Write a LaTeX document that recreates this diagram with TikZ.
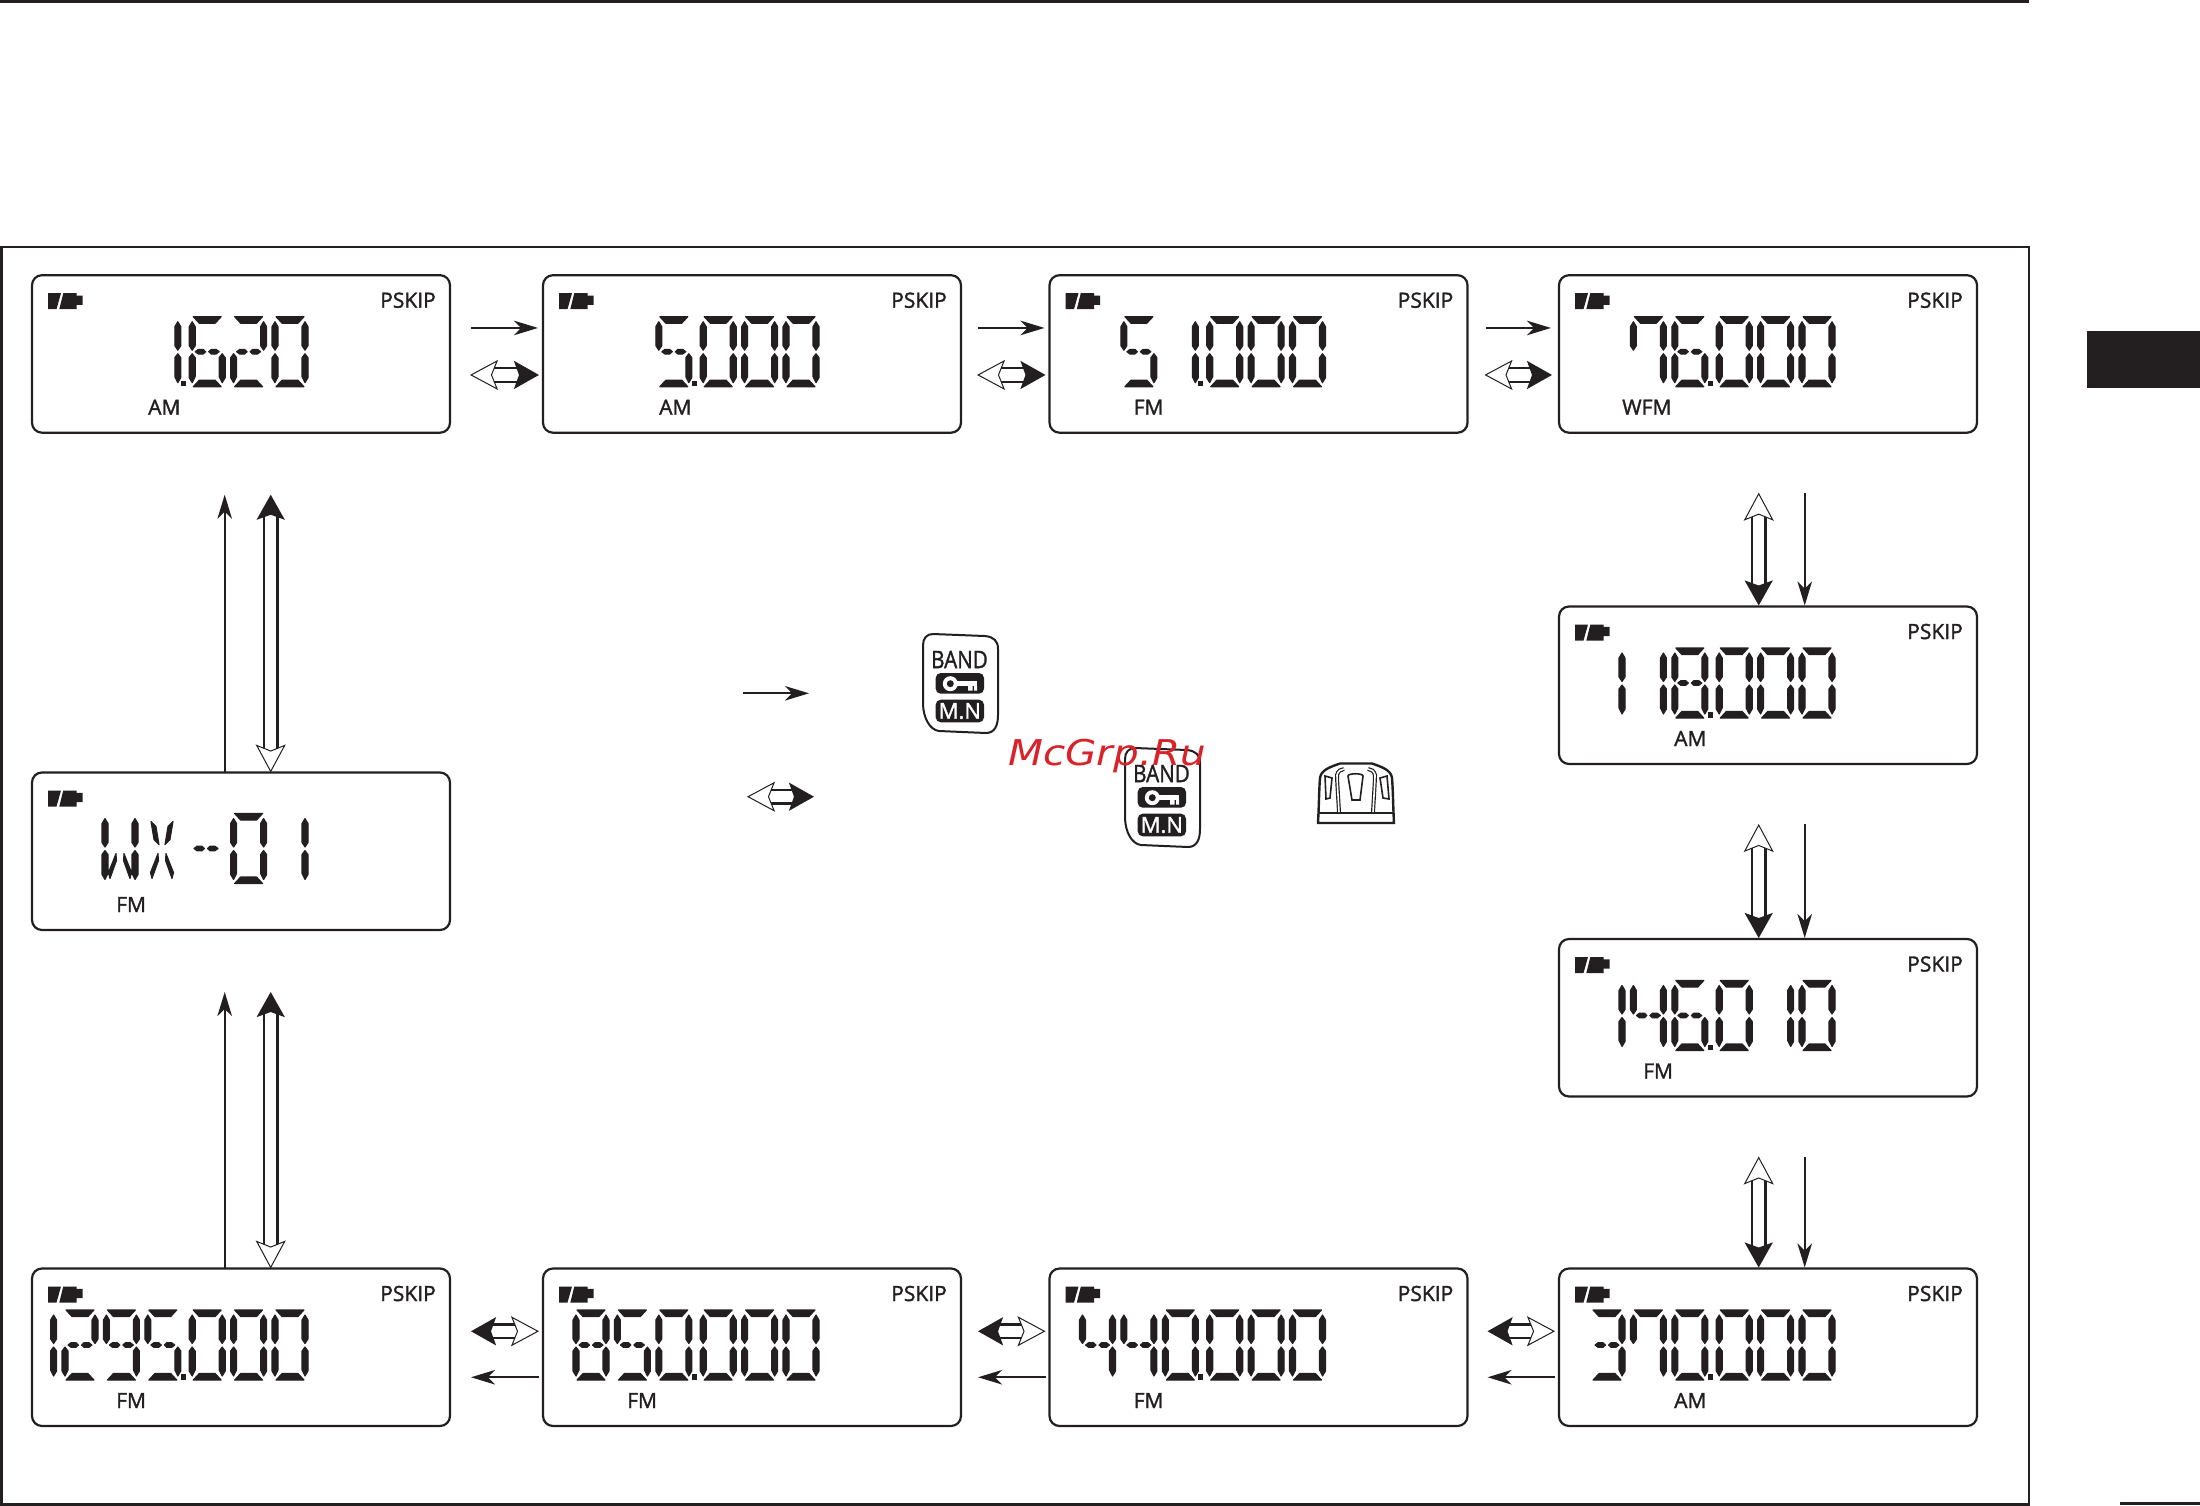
\documentclass[tikz,border=0pt]{standalone}
\usepackage{fontspec}
\setmainfont{Open Sans}[FakeBold=1.6]
\newfontfamily\markfont{DejaVu Sans}
\usepackage{xcolor}
\usetikzlibrary{calc}
\usetikzlibrary{arrows.meta}

\definecolor{lcdink}{HTML}{231F20}
\definecolor{markred}{HTML}{D8232A}

\tikzset{
  lcdbox/.style={draw,line width=2.2pt,rounded corners=10pt,minimum width=418pt,minimum height=157.5pt,inner sep=0pt,outer sep=0pt},
  lcdtext/.style={inner sep=0pt,font=\fontsize{21}{21}\selectfont},
  thinarrow/.style={line width=2.2pt,-{Stealth[length=24pt,width=14.5pt,inset=7pt]}},
  twoway/.style={line width=2.2pt,double,double distance=11.5pt,{Stealth[open,fill=white,line width=1pt,length=28pt,width=30pt,inset=6pt]}-{Stealth[length=25pt,width=28pt,inset=5pt]}},
  keytext/.style={inner sep=0pt,font=\fontsize{24}{24}\selectfont}
}

% Segments d'un chiffre (largeur 36, hauteur 70)
\newcommand{\sega}{(4,0) -- (32,0) -- (26,6.5) -- (10,6.5) -- cycle }
\newcommand{\segd}{(10,63.5) -- (26,63.5) -- (32,70) -- (4,70) -- cycle }
\newcommand{\segf}{(3,5) -- (6,10) -- (6,29) -- (3,33.5) -- (0,29) -- (0,10) -- cycle }
\newcommand{\sege}{(3,37) -- (6,41) -- (6,60) -- (3,66) -- (0,61) -- (0,41) -- cycle }
\newcommand{\segb}{(33,5) -- (36,10) -- (36,29) -- (33,33.5) -- (30,29) -- (30,10) -- cycle }
\newcommand{\segc}{(33,37) -- (36,41) -- (36,61) -- (33,66) -- (30,60) -- (30,41) -- cycle }
\newcommand{\segg}{(6,35) -- (9,32.7) -- (14,32.7) -- (16.5,35) -- (14,37.3) -- (9,37.3) -- cycle (19.5,35) -- (22,32.7) -- (27,32.7) -- (30,35) -- (27,37.3) -- (22,37.3) -- cycle }
\newcommand{\segul}{(7,8) -- (12,13) -- (15,31) -- (10,26) -- cycle }
\newcommand{\segur}{(29,8) -- (24,13) -- (21,31) -- (26,26) -- cycle }
\newcommand{\segdl}{(14,40) -- (14.5,47) -- (8,65) -- (6.5,59) -- cycle }
\newcommand{\segdr}{(22,40) -- (21.5,47) -- (28,65) -- (29.5,59) -- cycle }

\newcommand{\digdef}[2]{\expandafter\newcommand\csname lcd#1\endcsname{\filldraw[line width=1.1pt,line join=round] #2;}}
\digdef{0}{\sega\segb\segc\segd\sege\segf}
\digdef{1}{\segb\segc}
\digdef{2}{\sega\segb\segg\sege\segd}
\digdef{3}{\sega\segb\segg\segc\segd}
\digdef{4}{\segf\segg\segb\segc}
\digdef{5}{\sega\segf\segg\segc\segd}
\digdef{6}{\sega\segf\segg\segc\segd\sege}
\digdef{7}{\sega\segf\segb\segc}
\digdef{8}{\sega\segb\segc\segd\sege\segf\segg}
\digdef{9}{\sega\segb\segc\segd\segf\segg}
\digdef{W}{\segf\sege\segb\segc\segdl\segdr}
\digdef{X}{\segul\segur\segdl\segdr}
\digdef{M}{\segg}

% Un afficheur : nom, mode, x du mode
\newcommand{\lcdpanel}[3]{%
  \node[lcdbox] (#1) at (209,78.75) {};
  \fill (16,18) -- (29,18) -- (24.5,34) -- (16,34) -- cycle;
  \fill (31.3,18) -- (44.7,18) -- (44.7,20.3) -- (50.7,20.3) -- (50.7,29.7) -- (44.7,29.7) -- (44.7,34) -- (27.3,34) -- cycle;
  \node[lcdtext,anchor=west] (#1mode) at (#3,132) {#2};
}
% Une frequence : PSKIP, point et chiffres (position/chiffre)
\newcommand{\lcdfreq}[2]{%
  \node[lcdtext,anchor=east] (#1skip) at (404,25) {PSKIP};
  \fill (148.5,105.5) rectangle (153.5,111);
  \foreach \p/\d in {#2} {
    \pgfmathsetmacro{\dx}{240-41.4*\p-3*(\p>2)}
    \begin{scope}[shift={(\dx,41.5)}]
      \csname lcd\d\endcsname
    \end{scope}
  }
}
% La touche BAND
\newcommand{\bandkey}[3]{%
  \begin{scope}[shift={(#2,#3)}]
    \draw[line width=2pt] (10,1) -- (62,3) .. controls (71,4) and (75,8) .. (75,16) -- (75,82) .. controls (75,92) and (72,100) .. (63,100) -- (16,98) .. controls (7,97) and (0,85) .. (0,70) -- (0,12) .. controls (0,5) and (4,1) .. (10,1) -- cycle;
    \node[keytext,xscale=0.86] (#1band) at (36.5,26.5) {BAND};
    \fill[rounded corners=5pt] (12.7,40) rectangle (61,60.7);
    \fill[rounded corners=5pt] (12.7,66.7) rectangle (61,89.3);
    \fill[white] (27.3,50.7) circle (7.5);
    \fill (27.3,50.7) circle (3.5);
    \fill[white] (33,48) rectangle (54,53);
    \fill[white] (45,53) rectangle (49.5,57.5) (51,53) rectangle (54,57.5);
    \node[keytext,text=white,font=\fontsize{22}{22}\selectfont] (#1mn) at (36.8,78) {M.N};
  \end{scope}
}

\begin{document}
\begin{tikzpicture}[x=1pt,y=-1pt,color=lcdink]
    \useasboundingbox (0,0) rectangle (2200,1505);

    % Cadre, filet du haut et onglet
    \fill (0,0) rectangle (2029,3);
    \draw[line width=2.6pt] (1.5,247) rectangle (2029,1504.5);
    \fill (2086.7,331) rectangle (2200,387.7);
    \fill (2120,1502) rectangle (2200,1505);

    % Rangee du haut
    \begin{scope}[shift={(32,275.2)}]
      \lcdpanel{bxa}{AM}{116}
      \lcdfreq{bxa}{0/0,1/2,2/6,3/1}
    \end{scope}
    \begin{scope}[shift={(543,275.2)}]
      \lcdpanel{bxb}{AM}{116}
      \lcdfreq{bxb}{0/0,1/0,2/0,3/5}
    \end{scope}
    \begin{scope}[shift={(1049.5,275.2)}]
      \lcdpanel{bxc}{FM}{84}
      \lcdfreq{bxc}{0/0,1/0,2/0,3/1,4/5}
    \end{scope}
    \begin{scope}[shift={(1559,275.2)}]
      \lcdpanel{bxd}{WFM}{63}
      \lcdfreq{bxd}{0/0,1/0,2/0,3/6,4/7}
    \end{scope}

    % Colonne de droite
    \begin{scope}[shift={(1559,606.5)}]
      \lcdpanel{bxe}{AM}{115}
      \lcdfreq{bxe}{0/0,1/0,2/0,3/8,4/1,5/1}
    \end{scope}
    \begin{scope}[shift={(1559,939)}]
      \lcdpanel{bxf}{FM}{84}
      \lcdfreq{bxf}{0/0,1/1,2/0,3/6,4/4,5/1}
    \end{scope}

    % Rangee du bas
    \begin{scope}[shift={(1559,1268.5)}]
      \lcdpanel{bxg}{AM}{115}
      \lcdfreq{bxg}{0/0,1/0,2/0,3/0,4/7,5/3}
    \end{scope}
    \begin{scope}[shift={(1049.5,1268.5)}]
      \lcdpanel{bxh}{FM}{84}
      \lcdfreq{bxh}{0/0,1/0,2/0,3/0,4/4,5/4}
    \end{scope}
    \begin{scope}[shift={(543,1268.5)}]
      \lcdpanel{bxi}{FM}{84}
      \lcdfreq{bxi}{0/0,1/0,2/0,3/0,4/5,5/8}
    \end{scope}
    \begin{scope}[shift={(32,1268.5)}]
      \lcdpanel{bxj}{FM}{84}
      \lcdfreq{bxj}{0/0,1/0,2/0,3/5,4/9,5/2,6/1}
    \end{scope}

    % Afficheur WX
    \begin{scope}[shift={(32,772.5)}]
      \lcdpanel{bxw}{FM}{84}
      \begin{scope}[shift={(70,41)}] \csname lcdW\endcsname \end{scope}
      \begin{scope}[shift={(112,41)}] \csname lcdX\endcsname \end{scope}
      \begin{scope}[shift={(156,41)}] \csname lcdM\endcsname \end{scope}
      \begin{scope}[shift={(198.6,41)}] \csname lcd0\endcsname \end{scope}
      \begin{scope}[shift={(240,41)}] \csname lcd1\endcsname \end{scope}
    \end{scope}

    % Fleches de la rangee du haut
    \foreach \a/\b/\s/\e in {bxa/bxb/21/-5,bxb/bxc/17/-5,bxc/bxd/18/-8} {
      \draw[thinarrow] ($(\a.east)+(\s,-26)$) -- ($(\b.west)+(\e,-26)$);
      \draw[twoway] ($(\a.east)+(\s-1,21)$) -- ($(\b.west)+(\e+1,21)$);
    }

    % Fleches de la colonne de droite
    \foreach \a/\b in {bxd/bxe,bxe/bxf,bxf/bxg} {
      \draw[thinarrow] ($(\a.south)+(36.7,60)$) -- ($(\b.north)+(36.7,-1)$);
      \draw[twoway] ($(\a.south)+(-9.3,60)$) -- ($(\b.north)+(-9.3,-1)$);
    }

    % Fleches de la rangee du bas
    \foreach \a/\b/\s/\e in {bxg/bxh/-4/20,bxh/bxi/-4/17,bxi/bxj/-4/21} {
      \draw[thinarrow] ($(\a.west)+(\s,30)$) -- ($(\b.east)+(\e,30)$);
      \draw[twoway] ($(\a.west)+(\s,-16)$) -- ($(\b.east)+(\e,-16)$);
    }

    % Fleches de la colonne de gauche
    \foreach \a/\b in {bxj/bxw,bxw/bxa} {
      \draw[thinarrow] ($(\a.north)+(-16.3,0)$) -- ($(\b.south)+(-16.3,62)$);
      \draw[twoway] ($(\a.north)+(29.7,0)$) -- ($(\b.south)+(29.7,62)$);
    }

    % Legende
    \coordinate (lega) at (742.6,693.3);
    \coordinate (legb) at (809,693.3);
    \coordinate (legc) at (747,796.7);
    \coordinate (legd) at (814,796.7);
    \draw[thinarrow] (lega) -- (legb);
    \draw[twoway] (legc) -- (legd);
    \bandkey{keya}{923}{633}
    \bandkey{keyb}{1125}{747}

    % Le bouton
    \begin{scope}[shift={(1300,740)}]
      \draw[line width=2.4pt] (18,83) .. controls (19,65) and (19,50) .. (20,38) .. controls (21,30) and (30,27) .. (40,23.5) -- (72,23.5) .. controls (82,27) and (91,30) .. (92,38) .. controls (93,50) and (93,65) .. (94,83) -- cycle;
      \draw[line width=2pt] (19,73) -- (93,73);
      \draw[line width=1.6pt] (25,36) -- (32,38) -- (30,58) -- (26,59) -- cycle;
      \draw[line width=1.6pt] (87,36) -- (80,38) -- (83,58) -- (89,59) -- cycle;
      \draw[line width=1.6pt] (48,36) .. controls (48,33) and (63,33) .. (63,36) -- (60,60) -- (52,60) -- cycle;
      \draw[line width=1.2pt,double,double distance=1.6pt] (39,72) .. controls (38,55) and (37,40) .. (37,35) .. controls (38,31) and (41,29) .. (44,29);
      \draw[line width=1.2pt,double,double distance=1.6pt] (73,72) .. controls (74,55) and (75,40) .. (75,35) .. controls (74,31) and (71,29) .. (68,29);
    \end{scope}

    % Filigrane
    \node[inner sep=0pt,text=markred,xscale=1.14,font=\markfont\itshape\fontsize{35.5}{36}\selectfont] (mark) at (1107,756) {McGrp.Ru};
\end{tikzpicture}
\end{document}
